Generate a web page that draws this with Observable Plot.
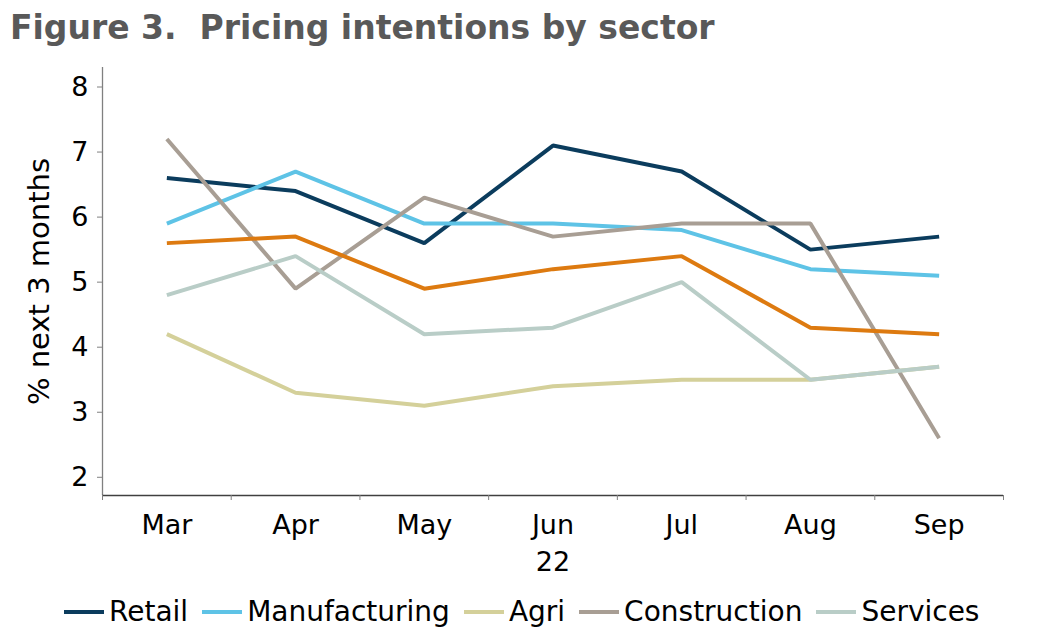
<!DOCTYPE html>
<html>
<head>
<meta charset="utf-8">
<script src="https://cdn.jsdelivr.net/npm/d3@7"></script>
<script src="https://cdn.jsdelivr.net/npm/@observablehq/plot@0.6"></script>
<style>
  html, body { margin: 0; padding: 0; background: #fff; }
  body { width: 1038px; height: 637px; position: relative; overflow: hidden; font-family: "DejaVu Sans", Verdana, sans-serif; }
  #title { position: absolute; left: 10px; top: 8px; font-size: 33px; font-weight: bold; color: #595959; white-space: pre; letter-spacing: 0; }
  #chart { position: absolute; left: 0; top: 50px; }
  #legend { position: absolute; left: 64px; top: 595px; display: flex; align-items: center; font-size: 28px; color: #000; white-space: nowrap; }
  .item { display: flex; align-items: center; margin-right: 14px; }
  .sw { width: 40px; height: 4px; margin-right: 5px; }
</style>
</head>
<body>
<div id="title">Figure 3.  Pricing intentions by sector</div>
<div id="chart"></div>
<div id="legend"></div>
<script>
const months = ["Mar", "Apr", "May", "Jun", "Jul", "Aug", "Sep"];
const monthLabels = ["Mar", "Apr", "May", "Jun\n22", "Jul", "Aug", "Sep"];
const yTicks = [2, 3, 4, 5, 6, 7, 8];

const retail        = [6.6, 6.4, 5.6, 7.1, 6.7, 5.5, 5.7];
const manufacturing = [5.9, 6.7, 5.9, 5.9, 5.8, 5.2, 5.1];
const agri          = [4.2, 3.3, 3.1, 3.4, 3.5, 3.5, 3.7];
const construction  = [7.2, 4.9, 6.3, 5.7, 5.9, 5.9, 2.6];
const services      = [4.8, 5.4, 4.2, 4.3, 5.0, 3.5, 3.7];
const total         = [5.6, 5.7, 4.9, 5.2, 5.4, 4.3, 4.2];

const seriesNames = ["Retail", "Manufacturing", "Agri", "Construction", "Services", "Total"];
const seriesValues = [retail, manufacturing, agri, construction, services, total];
const colors = ["#0b3c5d", "#5ec3e6", "#d4d09a", "#a89e94", "#b9cdc7", "#dd7a10"];
const legendNames = ["Retail", "Manufacturing", "Agri", "Construction", "Services"];

const data = [];
seriesNames.forEach((name, s) => {
  seriesValues[s].forEach((v, i) => data.push({series: name, i, value: v}));
});

const idx = months.map((_, i) => i);
const boundaries = d3.range(months.length + 1).map(i => i - 0.5);

const fontFam = '"DejaVu Sans", Verdana, sans-serif';

const plot = Plot.plot({
  width: 1038,
  height: 560,
  marginLeft: 102,
  marginRight: 35,
  marginTop: 17,
  marginBottom: 115,
  style: { fontFamily: fontFam, fontSize: "26px", color: "#000", background: "#fff" },
  x: { type: "linear", domain: [-0.5, months.length - 0.5] },
  y: { domain: [1.72, 8.3] },
  color: { domain: seriesNames, range: colors },
  marks: [
    Plot.line(data, { x: "i", y: "value", z: "series", stroke: "series", strokeWidth: 4, strokeLinejoin: "miter", strokeLinecap: "butt" }),
    Plot.ruleX([-0.5], { stroke: "#808080", strokeWidth: 1.3 }),
    Plot.ruleY([1.72], { stroke: "#404040", strokeWidth: 1.3 }),
    Plot.axisY({ ticks: yTicks, tickSize: 5, tickPadding: 9, stroke: "#808080", tickFormat: d => String(d), label: null, fontSize: 27 }),
    Plot.axisY({ ticks: [], tickSize: 0, label: "% next 3 months", labelAnchor: "center", labelArrow: "none", labelOffset: 74, fontSize: 29 }),
    Plot.axisX({ ticks: boundaries, tickSize: 5, tickFormat: () => "", stroke: "#808080", label: null }),
    Plot.axisX({ ticks: idx, tickSize: 0, tickPadding: 12, tickFormat: i => monthLabels[i], label: null, lineHeight: 1.37, fontSize: 27 })
  ]
});
document.getElementById("chart").appendChild(plot);

const legend = document.getElementById("legend");
legendNames.forEach((name) => {
  const s = seriesNames.indexOf(name);
  const item = document.createElement("div");
  item.className = "item";
  const sw = document.createElement("div");
  sw.className = "sw";
  sw.style.background = colors[s];
  const lab = document.createElement("span");
  lab.textContent = name;
  item.appendChild(sw);
  item.appendChild(lab);
  legend.appendChild(item);
});
</script>
</body>
</html>
